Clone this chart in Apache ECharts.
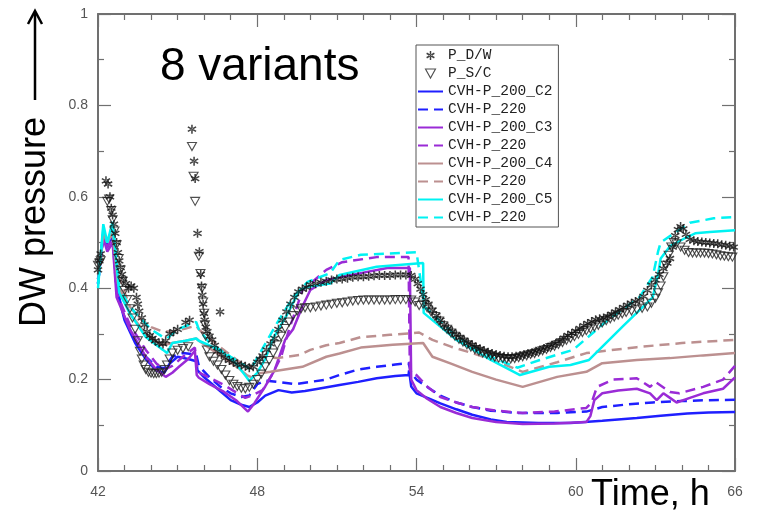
<!DOCTYPE html>
<html>
<head>
<meta charset="utf-8">
<script src="https://cdn.jsdelivr.net/npm/echarts@6/dist/echarts.min.js"></script>
<style>html,body{margin:0;padding:0;background:#fff}#c{width:757px;height:513px}</style>
</head>
<body>
<div id="c"></div>
<script>
// ---- data (time in h, DW pressure) ----
const xTicks = [42, 48, 54, 60, 66];
const yTicks = [0, 0.2, 0.4, 0.6, 0.8, 1];

const pDW = [[42.0,0.44],[42.05,0.46],[42.1,0.475],[42.3,0.635],[42.38,0.628],[42.45,0.6],[42.5,0.575],[42.55,0.56],[42.6,0.54],[42.65,0.52],[42.7,0.5],[42.75,0.478],[42.8,0.46],[42.85,0.445],[42.9,0.43],[42.95,0.42],[43.05,0.41],[43.15,0.4],[43.25,0.405],[43.35,0.4],[43.45,0.38],[43.5,0.365],[43.55,0.35],[43.65,0.335],[43.75,0.32],[43.85,0.305],[43.95,0.296],[44.05,0.29],[44.15,0.285],[44.3,0.28],[44.45,0.278],[44.55,0.285],[44.7,0.3],[44.85,0.305],[45.0,0.31],[45.3,0.325],[45.45,0.33],
[45.54,0.748],[45.62,0.678],[45.66,0.64],[45.75,0.52],[45.82,0.48],[45.87,0.43],[45.9,0.405],[45.93,0.385],[45.96,0.365],[45.99,0.345],[46.02,0.33],[46.06,0.315],[46.12,0.305],[46.2,0.295],[46.3,0.287],[46.4,0.275],[46.5,0.262],[46.6,0.348],[46.65,0.255],[46.8,0.247],[46.95,0.242],[47.1,0.238],[47.25,0.234],[47.4,0.232],[47.55,0.229],[47.7,0.226],[47.85,0.228],[48.0,0.238],[48.1,0.245],[48.2,0.252],[48.35,0.265],[48.5,0.278],[48.65,0.29],[48.8,0.31],[48.95,0.33],[49.1,0.348],[49.25,0.365],[49.4,0.38],[49.55,0.392],[49.7,0.398],[49.85,0.402],[50.0,0.408],[50.2,0.41],[50.4,0.413],[50.6,0.415],[50.8,0.418],[51.0,0.42],[51.2,0.42],[51.4,0.422],[51.6,0.424],[51.8,0.425],[52.0,0.425],[52.2,0.426],[52.4,0.427],[52.6,0.428],[52.8,0.428],[53.0,0.428],[53.2,0.429],[53.4,0.429],[53.6,0.429],[53.8,0.428],[53.95,0.42],[54.05,0.41],[54.15,0.398],[54.25,0.386],[54.35,0.375],[54.45,0.365],[54.6,0.352],[54.75,0.34],[54.9,0.33],[55.05,0.32],[55.2,0.312],[55.35,0.305],[55.5,0.298],[55.65,0.292],[55.8,0.286],[55.95,0.28],[56.1,0.276],[56.25,0.271],[56.4,0.267],[56.55,0.263],[56.7,0.26],[56.85,0.257],[57.0,0.255],[57.15,0.253],[57.3,0.251],[57.45,0.25],[57.6,0.25],[57.75,0.251],[57.9,0.253],[58.05,0.255],[58.2,0.257],[58.35,0.259],[58.5,0.262],[58.65,0.265],[58.8,0.268],[58.95,0.271],[59.1,0.275],[59.25,0.279],[59.4,0.285],[59.55,0.291],[59.7,0.297],[59.85,0.301],[60.0,0.306],[60.15,0.312],[60.3,0.318],[60.45,0.323],[60.6,0.327],[60.75,0.331],[60.9,0.333],[61.05,0.335],[61.2,0.338],[61.35,0.343],[61.5,0.348],[61.65,0.353],[61.8,0.358],[61.95,0.363],[62.1,0.367],[62.25,0.371],[62.4,0.374],[62.55,0.382],[62.7,0.395],[62.85,0.407],[63.0,0.418],[63.15,0.43],[63.3,0.443],[63.45,0.455],[63.55,0.465],[63.65,0.49],[63.75,0.515],[63.85,0.528],[63.95,0.535],[64.05,0.53],[64.15,0.518],[64.3,0.507],[64.45,0.504],[64.6,0.502],[64.75,0.501],[64.9,0.5],[65.05,0.499],[65.2,0.498],[65.35,0.497],[65.5,0.495],[65.65,0.494],[65.8,0.492],[65.95,0.49]];

const pSC = [[42.0,0.45],[42.05,0.455],[42.1,0.46],[42.35,0.59],[42.42,0.595],[42.5,0.57],[42.55,0.55],[42.62,0.525],[42.7,0.495],[42.78,0.465],[42.85,0.44],[42.92,0.415],[43.0,0.395],[43.1,0.375],[43.2,0.355],[43.3,0.335],[43.4,0.31],[43.5,0.285],[43.58,0.262],[43.65,0.245],[43.72,0.232],[43.8,0.222],[43.9,0.216],[44.0,0.214],[44.1,0.213],[44.2,0.213],[44.3,0.214],[44.4,0.216],[44.5,0.222],[44.6,0.232],[44.7,0.245],[44.8,0.258],[45.0,0.264],[45.2,0.268],[45.4,0.272],
[45.54,0.71],[45.6,0.645],[45.66,0.59],[45.8,0.47],[45.86,0.432],[45.92,0.4],[45.96,0.37],[46.0,0.345],[46.03,0.32],[46.06,0.295],[46.1,0.265],[46.2,0.25],[46.35,0.24],[46.5,0.232],[46.65,0.222],[46.8,0.21],[46.95,0.198],[47.1,0.19],[47.25,0.185],[47.4,0.181],[47.55,0.18],[47.7,0.183],[47.85,0.19],[48.0,0.2],[48.15,0.212],[48.3,0.228],[48.45,0.242],[48.6,0.258],[48.75,0.276],[48.9,0.295],[49.05,0.312],[49.2,0.326],[49.35,0.34],[49.5,0.35],[49.65,0.355],[49.8,0.357],[50.0,0.357],[50.2,0.359],[50.4,0.361],[50.6,0.363],[50.8,0.365],[51.0,0.367],[51.2,0.368],[51.4,0.37],[51.6,0.372],[51.8,0.373],[52.0,0.374],[52.2,0.374],[52.4,0.374],[52.6,0.374],[52.8,0.374],[53.0,0.374],[53.2,0.375],[53.4,0.375],[53.6,0.375],[53.8,0.374],[53.95,0.37],[54.1,0.362],[54.25,0.365],[54.4,0.357],[54.55,0.348],[54.7,0.338],[54.85,0.328],[55.0,0.318],[55.15,0.31],[55.3,0.302],[55.45,0.295],[55.6,0.288],[55.75,0.282],[55.9,0.276],[56.05,0.271],[56.2,0.266],[56.35,0.262],[56.5,0.258],[56.65,0.255],[56.8,0.252],[56.95,0.249],[57.1,0.247],[57.25,0.246],[57.4,0.245],[57.55,0.245],[57.7,0.246],[57.85,0.248],[58.0,0.25],[58.15,0.252],[58.3,0.255],[58.45,0.257],[58.6,0.26],[58.75,0.263],[58.9,0.266],[59.05,0.27],[59.2,0.273],[59.35,0.277],[59.5,0.281],[59.65,0.286],[59.8,0.29],[59.95,0.294],[60.1,0.299],[60.25,0.303],[60.4,0.307],[60.55,0.311],[60.7,0.315],[60.85,0.319],[61.0,0.324],[61.15,0.329],[61.3,0.333],[61.45,0.337],[61.6,0.341],[61.75,0.344],[61.9,0.347],[62.1,0.35],[62.3,0.353],[62.5,0.356],[62.7,0.359],[62.85,0.367],[63.0,0.378],[63.1,0.39],[63.2,0.405],[63.3,0.425],[63.4,0.45],[63.5,0.472],[63.6,0.49],[63.7,0.5],[63.8,0.497],[63.95,0.49],[64.1,0.483],[64.25,0.478],[64.4,0.477],[64.55,0.477],[64.7,0.477],[64.85,0.477],[65.0,0.476],[65.15,0.475],[65.3,0.473],[65.45,0.471],[65.6,0.47],[65.75,0.469],[65.9,0.468]];

const c2_200 = [[42.0,0.41],[42.2,0.52],[42.35,0.49],[42.55,0.52],[42.7,0.40],[43.0,0.33],[43.4,0.28],[43.8,0.245],[44.2,0.22],[44.5,0.215],[44.7,0.235],[45.0,0.25],[45.4,0.245],[45.7,0.24],[45.75,0.22],[46.0,0.205],[46.5,0.18],[47.0,0.155],[47.4,0.145],[47.7,0.14],[48.0,0.15],[48.3,0.165],[48.8,0.177],[49.3,0.172],[49.8,0.175],[50.3,0.18],[51.1,0.188],[51.8,0.195],[52.5,0.203],[53.2,0.208],[53.7,0.21],[53.72,0.22],[53.8,0.185],[54.0,0.17],[54.5,0.158],[54.9,0.148],[55.5,0.135],[56.1,0.123],[56.8,0.113],[57.4,0.107],[58.6,0.105],[59.8,0.105],[61.0,0.11],[62.3,0.116],[63.2,0.121],[64.2,0.126],[65.0,0.128],[66,0.129]];
const c2_220 = [[42.0,0.41],[42.2,0.52],[42.35,0.49],[42.55,0.52],[42.7,0.40],[43.0,0.335],[43.4,0.285],[43.8,0.25],[44.2,0.228],[44.5,0.225],[44.8,0.25],[45.2,0.258],[45.7,0.255],[45.8,0.23],[46.2,0.205],[46.6,0.185],[47.0,0.17],[47.4,0.162],[47.7,0.165],[48.0,0.19],[48.3,0.198],[48.8,0.195],[49.4,0.19],[50.0,0.195],[50.6,0.2],[51.1,0.21],[51.8,0.222],[52.5,0.228],[53.2,0.233],[53.7,0.236],[53.8,0.215],[54.0,0.2],[54.5,0.18],[54.9,0.165],[55.5,0.15],[56.1,0.14],[56.8,0.132],[57.8,0.127],[59.3,0.127],[60.4,0.13],[61.0,0.14],[62.0,0.146],[62.9,0.15],[64.0,0.153],[65.0,0.155],[66,0.156]];
const c3_200 = [[42.0,0.42],[42.2,0.51],[42.35,0.48],[42.55,0.5],[42.7,0.38],[43.2,0.31],[43.8,0.25],[44.2,0.222],[44.55,0.206],[44.8,0.215],[45.05,0.228],[45.4,0.245],[45.65,0.263],[45.72,0.21],[45.8,0.204],[46.2,0.19],[46.7,0.175],[47.2,0.155],[47.65,0.13],[47.9,0.149],[48.3,0.185],[48.65,0.22],[49.05,0.287],[49.35,0.31],[49.7,0.36],[50.0,0.396],[50.6,0.418],[51.9,0.433],[52.9,0.444],[53.75,0.444],[53.8,0.2],[54.0,0.177],[54.4,0.158],[54.9,0.14],[55.5,0.127],[56.1,0.116],[57.0,0.107],[58.0,0.103],[59.2,0.104],[60.4,0.107],[60.55,0.12],[60.7,0.155],[61.0,0.17],[61.6,0.176],[62.3,0.18],[62.8,0.17],[63.05,0.155],[63.3,0.17],[63.55,0.16],[63.8,0.15],[64.3,0.16],[64.8,0.17],[65.55,0.18],[66,0.205]];
const c3_220 = [[42.0,0.42],[42.2,0.51],[42.35,0.49],[42.55,0.51],[42.7,0.39],[43.2,0.32],[43.8,0.265],[44.2,0.235],[44.5,0.222],[44.8,0.23],[45.2,0.25],[45.65,0.27],[45.75,0.22],[45.85,0.214],[46.7,0.19],[47.2,0.172],[47.55,0.16],[47.8,0.165],[48.2,0.177],[48.6,0.215],[48.9,0.25],[49.2,0.31],[49.5,0.36],[49.7,0.396],[50.0,0.41],[50.6,0.44],[51.2,0.457],[52.5,0.468],[53.7,0.468],[53.75,0.22],[54.0,0.21],[54.4,0.185],[54.9,0.162],[55.5,0.15],[56.1,0.14],[57.0,0.132],[58.0,0.127],[59.2,0.13],[60.4,0.138],[60.6,0.15],[60.8,0.184],[61.4,0.2],[62.3,0.203],[62.8,0.184],[63.0,0.195],[63.55,0.173],[63.9,0.17],[64.8,0.184],[65.55,0.2],[66,0.23]];
const c4_200 = [[42.0,0.43],[42.2,0.52],[42.35,0.5],[42.55,0.52],[42.75,0.41],[43.2,0.345],[43.8,0.3],[44.4,0.275],[44.8,0.28],[45.3,0.285],[45.7,0.29],[45.8,0.285],[46.3,0.265],[46.8,0.245],[47.3,0.225],[47.6,0.21],[47.8,0.205],[48.1,0.214],[48.5,0.217],[49.7,0.228],[50.6,0.25],[51.1,0.257],[51.9,0.27],[53.1,0.276],[54.25,0.28],[54.6,0.25],[55.3,0.235],[56.1,0.217],[57.0,0.2],[58.0,0.184],[59.3,0.206],[60.4,0.217],[61.0,0.236],[62.3,0.243],[63.55,0.247],[64.8,0.253],[66,0.258]];
const c4_220 = [[42.0,0.43],[42.2,0.52],[42.35,0.5],[42.55,0.53],[42.75,0.43],[43.2,0.36],[43.55,0.335],[44.0,0.315],[44.45,0.305],[44.8,0.305],[45.3,0.312],[45.7,0.318],[45.8,0.31],[46.3,0.285],[46.8,0.262],[47.3,0.24],[47.7,0.225],[48.1,0.25],[48.75,0.247],[49.6,0.254],[50.0,0.265],[50.6,0.275],[51.1,0.28],[51.9,0.293],[53.0,0.298],[54.1,0.303],[54.6,0.287],[55.3,0.272],[56.1,0.258],[57.0,0.24],[58.0,0.217],[59.3,0.238],[60.4,0.258],[62.3,0.271],[64.0,0.28],[66,0.287]];
const c5_200 = [[42.0,0.40],[42.2,0.54],[42.35,0.50],[42.55,0.545],[42.8,0.39],[43.2,0.345],[43.8,0.293],[44.45,0.265],[44.6,0.258],[44.8,0.28],[45.3,0.285],[45.7,0.29],[45.8,0.285],[46.2,0.275],[46.7,0.26],[47.2,0.235],[47.6,0.205],[47.7,0.197],[48.0,0.215],[48.3,0.245],[48.6,0.29],[49.1,0.34],[49.6,0.396],[49.9,0.403],[50.75,0.41],[51.1,0.429],[52.5,0.447],[54.25,0.455],[54.27,0.346],[55.5,0.287],[56.8,0.243],[57.9,0.21],[59.0,0.228],[59.8,0.232],[60.5,0.243],[61.8,0.318],[62.9,0.38],[63.1,0.43],[63.2,0.465],[63.55,0.492],[64.2,0.512],[64.5,0.52],[65.05,0.523],[66,0.527]];
const c5_220 = [[42.0,0.41],[42.2,0.53],[42.35,0.5],[42.55,0.54],[42.8,0.40],[43.2,0.36],[43.55,0.337],[44.0,0.31],[44.45,0.293],[44.6,0.29],[45.0,0.31],[45.7,0.326],[45.8,0.31],[46.2,0.28],[47.0,0.25],[47.6,0.228],[47.75,0.222],[48.1,0.258],[48.75,0.324],[49.35,0.38],[49.9,0.414],[50.75,0.433],[51.1,0.462],[51.9,0.473],[53.0,0.476],[54.0,0.479],[54.3,0.36],[55.5,0.295],[56.8,0.25],[57.8,0.226],[58.65,0.243],[59.9,0.265],[61.2,0.33],[62.4,0.38],[62.9,0.425],[63.1,0.48],[63.2,0.5],[63.7,0.52],[64.3,0.543],[65.2,0.553],[66,0.556]];

const lineNames = ['CVH-P_200_C2','CVH-P_220 (C2)','CVH-P_200_C3','CVH-P_220 (C3)','CVH-P_200_C4','CVH-P_220 (C4)','CVH-P_200_C5','CVH-P_220 (C5)'];
const lineData = [c2_200, c2_220, c3_200, c3_220, c4_200, c4_220, c5_200, c5_220];
const lineColors = ['#1f1fff','#1f1fff','#9a2bd6','#9a2bd6','#bc9090','#bc9090','#00f2f2','#00f2f2'];
const lineDashed = [false,true,false,true,false,true,false,true];

const asterisk = 'path://M-0.8,-5 L0.8,-5 L0.8,5 L-0.8,5 Z M-4.7,-1.8 L-3.9,-3.2 L4.7,1.8 L3.9,3.2 Z M-4.7,1.8 L-3.9,3.2 L4.7,-1.8 L3.9,-3.2 Z';
const triDown = 'path://M0,0 L10,0 L5,9 Z';

const chart = echarts.init(document.getElementById('c'), null, {renderer: 'canvas'});
const axisColor = '#707070';
const labelStyle = {color: '#555', fontSize: 14, fontFamily: 'Liberation Sans, Arial, sans-serif'};

function xAx(pos, showLabel) {
  return {
    type: 'value', position: pos, min: 42, max: 66, interval: 6,
    axisLine: {show: true, onZero: false, lineStyle: {color: axisColor, width: 2}},
    axisTick: {show: true, inside: true, length: 13, lineStyle: {color: axisColor, width: 1.2}},
    minorTick: {show: true, splitNumber: 6, length: 6, lineStyle: {color: axisColor, width: 1.2}},
    splitLine: {show: false},
    axisLabel: {show: showLabel, margin: 14, ...labelStyle,
      formatter: v => xTicks.includes(v) ? String(v) : ''}
  };
}
function yAx(pos, showLabel) {
  return {
    type: 'value', position: pos, min: 0, max: 1, interval: 0.2,
    axisLine: {show: true, onZero: false, lineStyle: {color: axisColor, width: 2}},
    axisTick: {show: true, inside: true, length: 13, lineStyle: {color: axisColor, width: 1.2}},
    minorTick: {show: true, splitNumber: 2, length: 6, lineStyle: {color: axisColor, width: 1.2}},
    splitLine: {show: false},
    axisLabel: {show: showLabel, margin: 10, ...labelStyle,
      formatter: v => { const t = yTicks.find(q => Math.abs(q - v) < 1e-9); return t === undefined ? '' : String(t); }}
  };
}

const series = [];
lineData.forEach((d, i) => {
  series.push({
    name: lineNames[i], type: 'line', data: d, symbol: 'none', z: 3,
    lineStyle: {color: lineColors[i], width: 2.5, type: lineDashed[i] ? [10, 6] : 'solid'},
    itemStyle: {color: lineColors[i]}, animation: false
  });
});
series.push({
  name: 'P_S/C', type: 'scatter', data: pSC, symbol: 'triangle', symbolRotate: 180,
  symbolSize: [9, 8], z: 4, animation: false,
  itemStyle: {color: 'rgba(255,255,255,0)', borderColor: '#222', borderWidth: 1.1}
});
series.push({
  name: 'P_D/W', type: 'scatter', data: pDW, symbol: asterisk, symbolSize: 9, z: 5, animation: false,
  itemStyle: {color: '#111'}
});

const legendData = [
  {name: 'P_D/W', icon: asterisk},
  {name: 'P_S/C', icon: triDown, itemStyle: {color: 'rgba(255,255,255,0)', borderColor: '#222', borderWidth: 1.1}}
].concat(lineNames.map(n => ({name: n, itemStyle: {opacity: 0}})));

chart.setOption({
  backgroundColor: '#fff',
  animation: false,
  grid: {left: 98, right: 22, top: 14, bottom: 42, containLabel: false},
  xAxis: [xAx('bottom', true), xAx('top', false)],
  yAxis: [yAx('left', true), yAx('right', false)],
  legend: {
    orient: 'vertical', left: 416, top: 45,
    padding: [3, 6, 2, 1], itemGap: 3, itemWidth: 25, itemHeight: 9,
    backgroundColor: '#fff', borderColor: '#555', borderWidth: 1, borderRadius: 0,
    data: legendData,
    symbolRotate: 0,
    textStyle: {fontFamily: 'Liberation Mono, DejaVu Sans Mono, monospace', fontSize: 14.5, color: '#222', lineHeight: 14.6},
    formatter: n => n.replace(/ \(C\d\)$/, ''),
    selectedMode: false
  },
  series: series,
  graphic: [
    {type: 'text', left: 160, top: 44, style: {text: '8 variants', font: '46px "Liberation Sans", Arial, sans-serif', fill: '#000'}},
    {type: 'text', x: 591, y: 495, style: {text: 'Time, h', font: '36px "Liberation Sans", Arial, sans-serif', fill: '#000', textVerticalAlign: 'middle', textAlign: 'left'}},
    {type: 'text', x: 35, y: 222, rotation: Math.PI / 2, style: {text: 'DW pressure', font: '36px "Liberation Sans", Arial, sans-serif', fill: '#000', textAlign: 'center', textVerticalAlign: 'middle'}},
    {type: 'polyline', shape: {points: [[35, 100], [35, 12]]}, style: {stroke: '#000', lineWidth: 2.5}},
    {type: 'polyline', shape: {points: [[28, 24], [35, 11], [42, 24]]}, style: {stroke: '#000', lineWidth: 2.5, fill: null}}
  ]
});
</script>
</body>
</html>
